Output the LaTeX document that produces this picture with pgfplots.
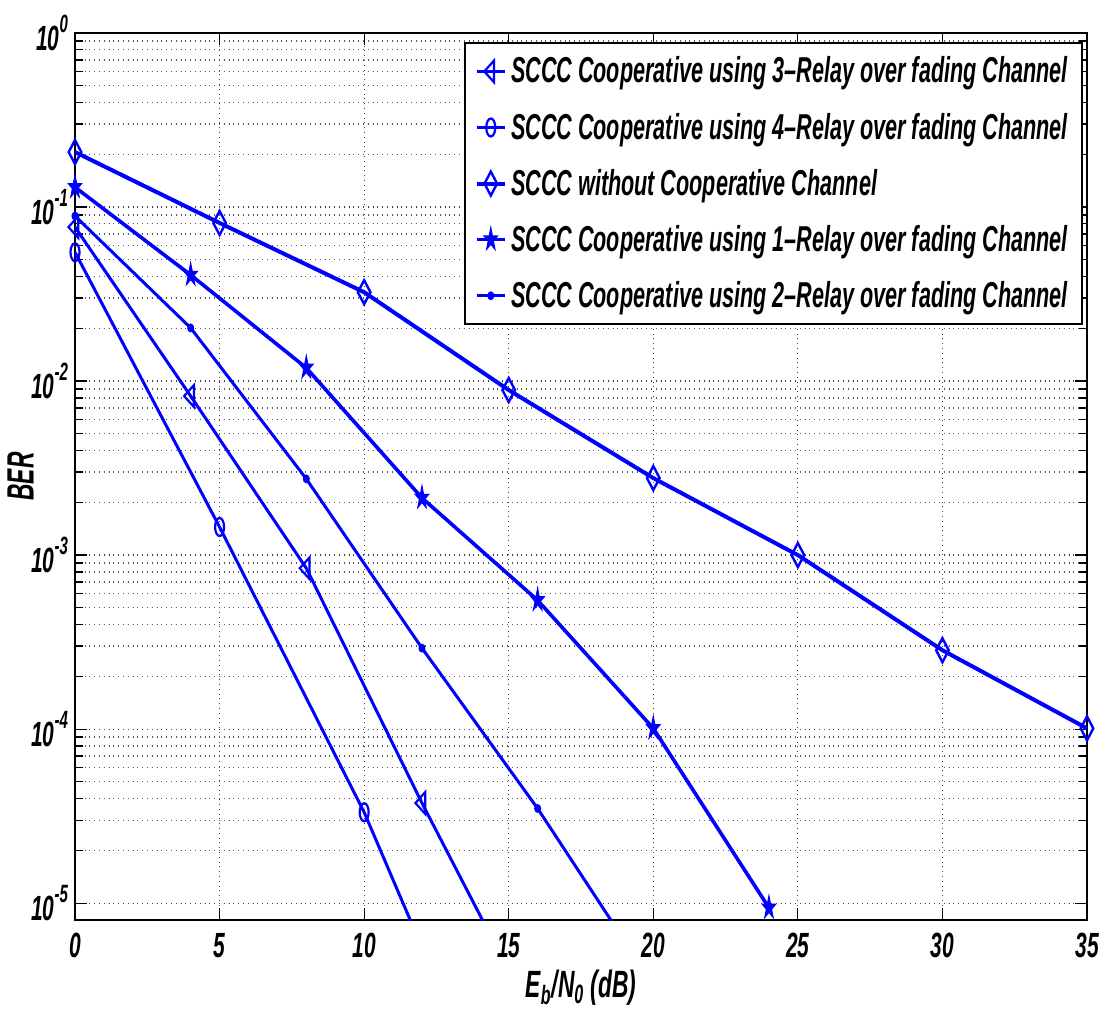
\documentclass[border=0pt]{standalone}
\usepackage{fontspec}
\setmainfont{Liberation Sans}[FakeStretch=0.6]
\usepackage{pgfplots}
\pgfplotsset{compat=1.18}
\newcommand\tp[1]{10\raisebox{1.0ex}{\fontsize{12.5}{12.5}\selectfont #1}}
\pgfdeclareplotmark{pentagram}{%
  \pgfpathmoveto{\pgfqpointpolar{90}{\pgfplotmarksize}}%
  \pgfpathlineto{\pgfqpointpolar{126}{0.38\pgfplotmarksize}}%
  \pgfpathlineto{\pgfqpointpolar{162}{\pgfplotmarksize}}%
  \pgfpathlineto{\pgfqpointpolar{198}{0.38\pgfplotmarksize}}%
  \pgfpathlineto{\pgfqpointpolar{234}{\pgfplotmarksize}}%
  \pgfpathlineto{\pgfqpointpolar{270}{0.38\pgfplotmarksize}}%
  \pgfpathlineto{\pgfqpointpolar{306}{\pgfplotmarksize}}%
  \pgfpathlineto{\pgfqpointpolar{342}{0.38\pgfplotmarksize}}%
  \pgfpathlineto{\pgfqpointpolar{18}{\pgfplotmarksize}}%
  \pgfpathlineto{\pgfqpointpolar{54}{0.38\pgfplotmarksize}}%
  \pgfpathclose
  \pgfusepathqfillstroke}
\begin{document}
\begin{tikzpicture}
\begin{axis}[
  scale only axis, width=506pt, height=443.5pt,
  xmin=0, xmax=35, ymode=log, ymin=8e-6, ymax=1,
  xtick={0,5,...,35}, xticklabels={0,5,10,15,20,25,30,35},
  ytick={1e-5,1e-4,1e-3,1e-2,1e-1,1},
  yticklabels={\tp{-5},\tp{-4},\tp{-3},\tp{-2},\tp{-1},\tp{0}},
  tick align=inside,
  major tick length=6pt, minor tick length=4pt,
  tick style={line width=0.6pt, black},
  grid=both,
  major grid style={dotted, black!75, line width=0.6pt},
  minor grid style={dotted, black!65, line width=0.6pt},
  axis line style={line width=1.3pt},
  every tick label/.append style={font=\fontsize{17.5}{17.5}\selectfont\bfseries\itshape},
  xticklabel style={yshift=-3pt},
  ylabel={BER}, xlabel={E\textsubscript{b}/N\textsubscript{0}\,(dB)},
  label style={font=\fontsize{19}{19}\selectfont\bfseries\itshape},
  ylabel style={yshift=-8pt},
  xlabel style={yshift=1pt},
  legend style={at={(0.996,0.99)}, anchor=north east,
    font=\fontsize{18}{18}\selectfont\bfseries\itshape,
    draw=black, line width=1pt, row sep=9.5pt, inner sep=5pt},
  legend cell align=left,
  legend image code/.code={\draw[mark repeat=2,mark phase=2] plot coordinates {(0cm,0cm)(0.25cm,0cm)(0.5cm,0cm)};},
]
\addplot[blue, line width=1.5pt, mark=triangle, mark size=6.3pt, mark options={xscale=0.52, rotate=90, line width=1.1pt}]
  coordinates {(0,0.0767)(4,0.0082)(8,8.4e-4)(12,3.76e-5)(16,1.95e-6)};
\addlegendentry{SCCC Cooperative using 3--Relay over fading Channel}
\addplot[blue, line width=1.5pt, mark=o, mark size=4.5pt, mark options={xscale=0.5, line width=1.1pt}]
  coordinates {(0,0.055)(5,1.45e-3)(10,3.33e-5)(15,3.8e-7)};
\addlegendentry{SCCC Cooperative using 4--Relay over fading Channel}
\addplot[blue, line width=2pt, mark=diamond, mark size=6pt, mark options={xscale=0.7, line width=1.2pt}]
  coordinates {(0,0.207)(5,0.081)(10,0.0324)(15,0.00888)(20,0.00277)(25,0.001)(30,2.84e-4)(35,1.01e-4)};
\addlegendentry{SCCC without Cooperative Channel}
\addplot[blue, line width=1.8pt, mark=pentagram, mark size=5.8pt, mark options={xscale=0.6, line width=0.6pt, fill=blue}]
  coordinates {(0,0.130)(4,0.0407)(8,0.0119)(12,0.00213)(16,5.5e-4)(20,1.01e-4)(24,9.4e-6)};
\addlegendentry{SCCC Cooperative using 1--Relay over fading Channel}
\addplot[blue, line width=1.5pt, mark=*, mark size=1.4pt, mark options={xscale=0.7}]
  coordinates {(0,0.0888)(4,0.0202)(8,0.00274)(12,2.92e-4)(16,3.5e-5)(20,3.4e-6)};
\addlegendentry{SCCC Cooperative using 2--Relay over fading Channel}
\end{axis}
\pgfresetboundingbox
\path ([shift={(-37.5pt,-50.5pt)}]current axis.south west) rectangle ([shift={(11pt,16.5pt)}]current axis.north east);
\end{tikzpicture}
\end{document}
